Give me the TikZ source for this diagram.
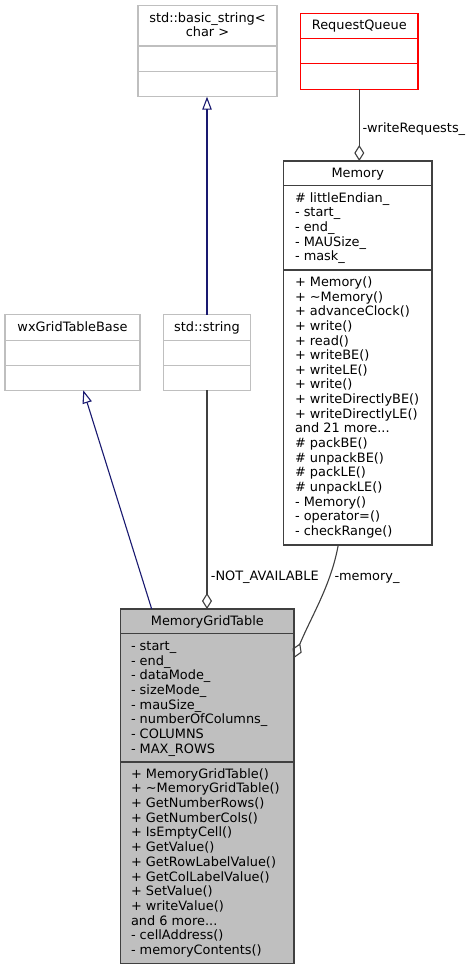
\documentclass[tikz,border=0pt]{standalone}
\usepackage{fontspec}
\setmainfont{DejaVu Sans}
\usetikzlibrary{arrows.meta,calc}
\definecolor{edgegray}{HTML}{404040}
\definecolor{lightgray}{HTML}{BFBFBF}
\definecolor{inhblue}{HTML}{191970}
\definecolor{boxfill}{HTML}{BFBFBF}
\newcommand\dfont{\fontsize{12.9}{14.65}\selectfont}
\newcommand\tdots{...}
\begin{document}
\begin{tikzpicture}[x=1pt,y=-1pt,
  cls/.style={rectangle, inner sep=0pt, outer sep=0pt, line width=1.1pt},
  docbox/.style={cls, draw=edgegray},
  extbox/.style={cls, draw=lightgray},
  redbox/.style={cls, draw=red},
  txt/.style={anchor=base west, inner sep=0pt, outer sep=0pt, font=\dfont},
  ttl/.style={anchor=base, inner sep=0pt, outer sep=0pt, font=\dfont},
  inh/.style={draw=inhblue, line width=1.1pt, -{Triangle[open,length=13pt,width=9.5pt]}},
  agg/.style={draw=edgegray, line width=1.1pt, -{Diamond[open,length=16pt,width=10pt]}},
  lbl/.style={anchor=base west, inner sep=0pt, font=\dfont}]
\useasboundingbox[fill=white] (0,0) rectangle (473,969);

% boxes
\node[extbox, minimum width=139pt, minimum height=91pt] (bs) at (207.5,51.2) {};
\node[redbox, minimum width=117.3pt, minimum height=76pt] (rq) at (359.3,51.3) {};
\node[docbox, minimum width=148.3pt, minimum height=384pt] (mem) at (357.8,353) {};
\node[extbox, minimum width=135pt, minimum height=75.6pt] (wx) at (72.5,352.5) {};
\node[extbox, minimum width=86.6pt, minimum height=75.6pt] (str) at (207,352.5) {};
\node[docbox, fill=boxfill, minimum width=173.3pt, minimum height=354.3pt] (mgt) at (207.35,786.15) {};

% dividers
\draw[lightgray, line width=1.1pt] (bs.north west) ++(0,40.3) -- ++(139,0);
\draw[lightgray, line width=1.1pt] (bs.north west) ++(0,65.6) -- ++(139,0);
\draw[red, line width=1.1pt] (rq.north west) ++(0,25.4) -- ++(117.3,0);
\draw[red, line width=1.1pt] (rq.north west) ++(0,50.4) -- ++(117.3,0);
\draw[edgegray, line width=1.1pt] (mem.north west) ++(0,24.7) -- ++(148.3,0);
\draw[edgegray, line width=1.1pt] (mem.north west) ++(0,109) -- ++(148.3,0);
\draw[lightgray, line width=1.1pt] (wx.north west) ++(0,25.6) -- ++(135,0);
\draw[lightgray, line width=1.1pt] (wx.north west) ++(0,50.6) -- ++(135,0);
\draw[lightgray, line width=1.1pt] (str.north west) ++(0,25.6) -- ++(86.6,0);
\draw[lightgray, line width=1.1pt] (str.north west) ++(0,50.6) -- ++(86.6,0);
\draw[edgegray, line width=1.1pt] (mgt.north west) ++(0,24.7) -- ++(173.3,0);
\draw[edgegray, line width=1.1pt] (mgt.north west) ++(0,153) -- ++(173.3,0);

% titles
\node[ttl] (bst1) at (207.5,22) {std::basic\_string<};
\node[ttl] (bst2) at (207.5,36.7) {char >};
\node[ttl] (rqt) at (359.3,29) {RequestQueue};
\node[ttl] (memt) at (357.8,177.8) {Memory};
\node[ttl] (wxt) at (72.5,331.4) {wxGridTableBase};
\node[ttl] (strt) at (207,331.4) {std::string};
\node[ttl] (mgtt) at (207.35,625.4) {MemoryGridTable};

% Memory members
\foreach \t [count=\i from 0] in {{\# littleEndian\_},{- start\_},{- end\_},{- MAUSize\_},{- mask\_}}
  \node[txt] (memf\i) at (295,202.4+\i*14.55) {\t};
\foreach \t [count=\i from 0] in {{+ Memory()},{+ \textasciitilde Memory()},{+ advanceClock()},{+ write()},{+ read()},{+ writeBE()},{+ writeLE()},{+ write()},{+ writeDirectlyBE()},{+ writeDirectlyLE()},{and 21 more\tdots},{\# packBE()},{\# unpackBE()},{\# packLE()},{\# unpackLE()},{- Memory()},{- operator=()},{- checkRange()}}
  \node[txt] (memm\i) at (295,286.4+\i*14.65) {\t};

% MemoryGridTable members
\foreach \t [count=\i from 0] in {{- start\_},{- end\_},{- dataMode\_},{- sizeMode\_},{- mauSize\_},{- numberOfColumns\_},{- COLUMNS},{- MAX\_ROWS}}
  \node[txt] (mgtf\i) at (131,650.4+\i*14.66) {\t};
\foreach \t [count=\i from 0] in {{+ MemoryGridTable()},{+ \textasciitilde MemoryGridTable()},{+ GetNumberRows()},{+ GetNumberCols()},{+ IsEmptyCell()},{+ GetValue()},{+ GetRowLabelValue()},{+ GetColLabelValue()},{+ SetValue()},{+ writeValue()},{and 6 more\tdots},{- cellAddress()},{- memoryContents()}}
  \node[txt] (mgtm\i) at (131,778+\i*14.72) {\t};

% edges
\draw[inh] (str.north) -- (str.north |- bs.south);
\draw[inh] ($(mgt.north west)+(31,0)$) -- ($(wx.south west)+(78.3,0)$);
\draw[agg] (str.south) -- (str.south |- mgt.north);
\draw[agg] (rq.south) -- (rq.south |- mem.north);
\coordinate (memend) at ($(mgt.north east)+(0,49)$);
\draw[agg] ($(mem.south west)+(54.6,0)$) .. controls (331,585) and (312,615) .. (memend);

% labels
\node[lbl] (l1) at (210.7,580.4) {-NOT\_AVAILABLE};
\node[lbl] (l2) at (334.3,580.4) {-memory\_};
\node[lbl] (l3) at (362.3,132.4) {-writeRequests\_};
\end{tikzpicture}
\end{document}
